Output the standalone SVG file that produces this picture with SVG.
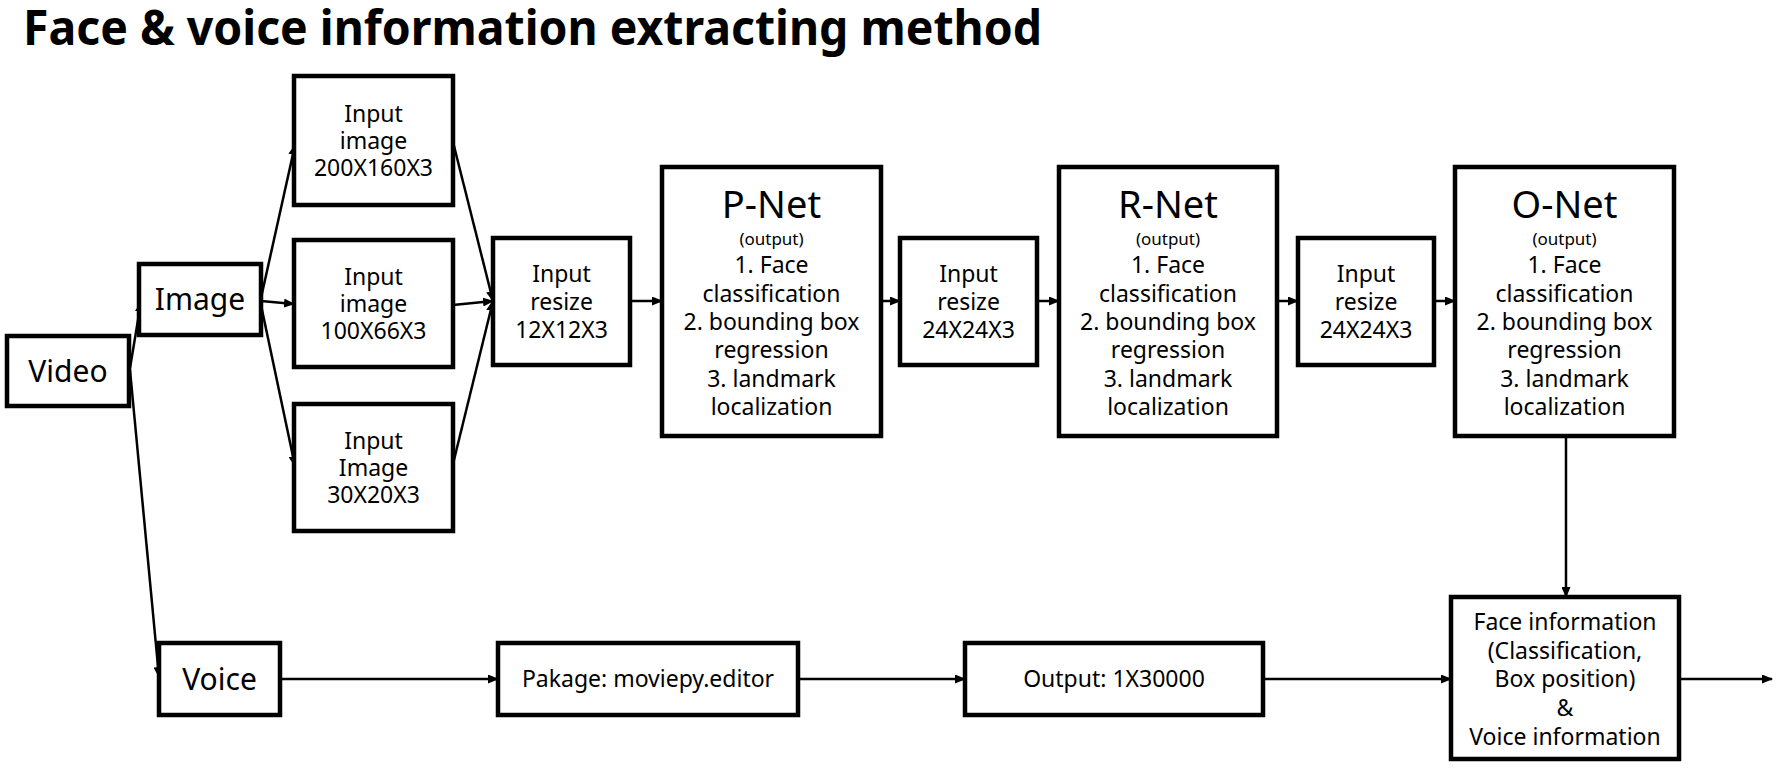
<svg xmlns="http://www.w3.org/2000/svg" width="1784" height="776" viewBox="0 0 1784 776">
<style>
.box{fill:#fff;stroke:#000;stroke-width:4.5}
.t{font-family:"Noto Sans","Open Sans",sans-serif;font-size:23px;fill:#000;text-anchor:middle}
.big{font-size:30px}
.net{font-size:38px}
.small{font-size:17px}
.title{font-family:"Noto Sans","Open Sans",sans-serif;font-weight:bold;font-size:48px;fill:#000}
.c{stroke:#000;stroke-width:2.5;fill:none;marker-end:url(#ah)}
</style>
<defs>
<marker id="ah" markerUnits="userSpaceOnUse" markerWidth="11" markerHeight="9" refX="10" refY="4.5" orient="auto">
<path d="M0,0 L11,4.5 L0,9 z" fill="#000"/>
</marker>
</defs>
<rect width="1784" height="776" fill="#fff"/>
<text class="title" x="23" y="45" textLength="1019" lengthAdjust="spacingAndGlyphs">Face &amp; voice information extracting method</text>

<g id="connectors">
<line class="c" x1="130" y1="368" x2="141" y2="302"/>
<line class="c" x1="130" y1="370" x2="159" y2="677"/>
<line class="c" x1="261" y1="298" x2="295" y2="145"/>
<line class="c" x1="261" y1="301" x2="294" y2="304"/>
<line class="c" x1="261" y1="305" x2="295" y2="466"/>
<line class="c" x1="453" y1="142" x2="493" y2="301"/>
<line class="c" x1="453" y1="305" x2="493" y2="301"/>
<line class="c" x1="453" y1="464" x2="493" y2="301"/>
<line class="c" x1="630" y1="301" x2="662" y2="301"/>
<line class="c" x1="881" y1="301" x2="900" y2="301"/>
<line class="c" x1="1037" y1="301" x2="1059" y2="301"/>
<line class="c" x1="1277" y1="301" x2="1298" y2="301"/>
<line class="c" x1="1434" y1="301" x2="1455" y2="301"/>
<line class="c" x1="1566" y1="436" x2="1566" y2="597"/>
<line class="c" x1="280" y1="679" x2="498" y2="679"/>
<line class="c" x1="798" y1="679" x2="965" y2="679"/>
<line class="c" x1="1263" y1="679" x2="1451" y2="679"/>
<line class="c" x1="1679" y1="679" x2="1772" y2="679"/>
</g>

<g id="video">
<rect class="box" x="7" y="336" width="122" height="70"/>
<text class="t big" x="68" y="382">Video</text>
</g>
<g id="image">
<rect class="box" x="139" y="264" width="122" height="71"/>
<text class="t big" x="200" y="310">Image</text>
</g>
<g id="input1">
<rect class="box" x="294" y="76" width="159" height="129"/>
<text class="t" x="373.5" y="122">Input</text>
<text class="t" x="373.5" y="149">image</text>
<text class="t" x="373.5" y="176">200X160X3</text>
</g>
<g id="input2">
<rect class="box" x="294" y="240" width="159" height="127"/>
<text class="t" x="373.5" y="285">Input</text>
<text class="t" x="373.5" y="312">image</text>
<text class="t" x="373.5" y="339">100X66X3</text>
</g>
<g id="input3">
<rect class="box" x="294" y="404" width="159" height="127"/>
<text class="t" x="373.5" y="449">Input</text>
<text class="t" x="373.5" y="476">Image</text>
<text class="t" x="373.5" y="503">30X20X3</text>
</g>
<g id="resize12">
<rect class="box" x="493" y="238" width="137" height="127"/>
<text class="t" x="561.5" y="282">Input</text>
<text class="t" x="561.5" y="310">resize</text>
<text class="t" x="561.5" y="338">12X12X3</text>
</g>
<g id="pnet">
<rect class="box" x="662" y="167" width="219" height="269"/>
<text class="t net" x="771.5" y="218">P-Net</text>
<text class="t small" x="771.5" y="245">(output)</text>
<text class="t" x="771.5" y="273">1. Face</text>
<text class="t" x="771.5" y="302">classification</text>
<text class="t" x="771.5" y="330">2. bounding box</text>
<text class="t" x="771.5" y="358">regression</text>
<text class="t" x="771.5" y="387">3. landmark</text>
<text class="t" x="771.5" y="415">localization</text>
</g>
<g id="resize24a">
<rect class="box" x="900" y="238" width="137" height="127"/>
<text class="t" x="968.5" y="282">Input</text>
<text class="t" x="968.5" y="310">resize</text>
<text class="t" x="968.5" y="338">24X24X3</text>
</g>
<g id="rnet">
<rect class="box" x="1059" y="167" width="218" height="269"/>
<text class="t net" x="1168" y="218">R-Net</text>
<text class="t small" x="1168" y="245">(output)</text>
<text class="t" x="1168" y="273">1. Face</text>
<text class="t" x="1168" y="302">classification</text>
<text class="t" x="1168" y="330">2. bounding box</text>
<text class="t" x="1168" y="358">regression</text>
<text class="t" x="1168" y="387">3. landmark</text>
<text class="t" x="1168" y="415">localization</text>
</g>
<g id="resize24b">
<rect class="box" x="1298" y="238" width="136" height="127"/>
<text class="t" x="1366" y="282">Input</text>
<text class="t" x="1366" y="310">resize</text>
<text class="t" x="1366" y="338">24X24X3</text>
</g>
<g id="onet">
<rect class="box" x="1455" y="167" width="219" height="269"/>
<text class="t net" x="1564.5" y="218">O-Net</text>
<text class="t small" x="1564.5" y="245">(output)</text>
<text class="t" x="1564.5" y="273">1. Face</text>
<text class="t" x="1564.5" y="302">classification</text>
<text class="t" x="1564.5" y="330">2. bounding box</text>
<text class="t" x="1564.5" y="358">regression</text>
<text class="t" x="1564.5" y="387">3. landmark</text>
<text class="t" x="1564.5" y="415">localization</text>
</g>
<g id="voice">
<rect class="box" x="159" y="643" width="121" height="72"/>
<text class="t big" x="219.5" y="690">Voice</text>
</g>
<g id="pakage">
<rect class="box" x="498" y="643" width="300" height="72"/>
<text class="t" x="648" y="687">Pakage: moviepy.editor</text>
</g>
<g id="output">
<rect class="box" x="965" y="643" width="298" height="72"/>
<text class="t" x="1114" y="687">Output: 1X30000</text>
</g>
<g id="faceinfo">
<rect class="box" x="1451" y="597" width="228" height="162"/>
<text class="t" x="1565" y="630">Face information</text>
<text class="t" x="1565" y="659">(Classification,</text>
<text class="t" x="1565" y="687">Box position)</text>
<text class="t" x="1565" y="716">&amp;</text>
<text class="t" x="1565" y="745">Voice information</text>
</g>
</svg>
